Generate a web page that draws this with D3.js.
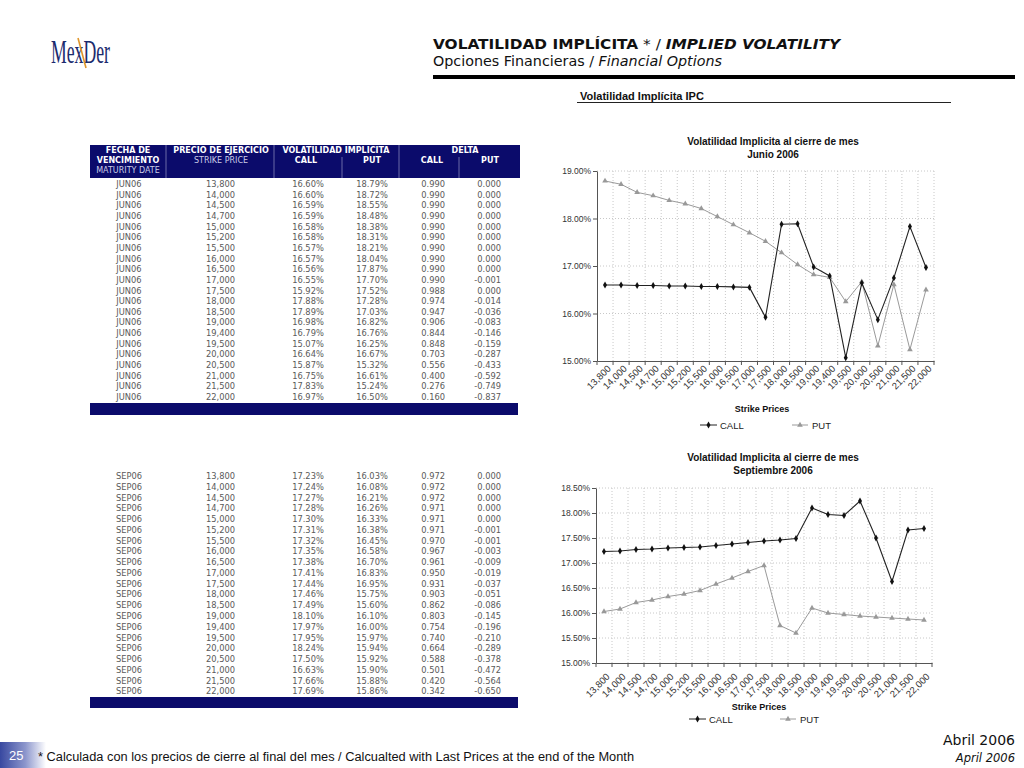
<!DOCTYPE html>
<html><head><meta charset="utf-8">
<script src="https://cdn.jsdelivr.net/npm/d3@7"></script>
<style>body{margin:0;background:#fff}svg{display:block}</style>
</head><body><svg id="c" width="1024" height="768"></svg>
<script>
// ---------- DATA ----------
const strikes = [13800,14000,14500,14700,15000,15200,15500,16000,16500,17000,17500,18000,18500,19000,19400,19500,20000,20500,21000,21500,22000];
const junLabel = "JUN06";
const junCall = [16.60,16.60,16.59,16.59,16.58,16.58,16.57,16.57,16.56,16.55,15.92,17.88,17.89,16.98,16.79,15.07,16.64,15.87,16.75,17.83,16.97];
const junPut  = [18.79,18.72,18.55,18.48,18.38,18.31,18.21,18.04,17.87,17.70,17.52,17.28,17.03,16.82,16.76,16.25,16.67,15.32,16.61,15.24,16.50];
const junDeltaCall = [0.990,0.990,0.990,0.990,0.990,0.990,0.990,0.990,0.990,0.990,0.988,0.974,0.947,0.906,0.844,0.848,0.703,0.556,0.400,0.276,0.160];
const junDeltaPut  = [0.000,0.000,0.000,0.000,0.000,0.000,0.000,0.000,0.000,-0.001,0.000,-0.014,-0.036,-0.083,-0.146,-0.159,-0.287,-0.433,-0.592,-0.749,-0.837];
const sepLabel = "SEP06";
const sepCall = [17.23,17.24,17.27,17.28,17.30,17.31,17.32,17.35,17.38,17.41,17.44,17.46,17.49,18.10,17.97,17.95,18.24,17.50,16.63,17.66,17.69];
const sepPut  = [16.03,16.08,16.21,16.26,16.33,16.38,16.45,16.58,16.70,16.83,16.95,15.75,15.60,16.10,16.00,15.97,15.94,15.92,15.90,15.88,15.86];
const sepDeltaCall = [0.972,0.972,0.972,0.971,0.971,0.971,0.970,0.967,0.961,0.950,0.931,0.903,0.862,0.803,0.754,0.740,0.664,0.588,0.501,0.420,0.342];
const sepDeltaPut  = [0.000,0.000,0.000,0.000,0.000,-0.001,-0.001,-0.003,-0.009,-0.019,-0.037,-0.051,-0.086,-0.145,-0.196,-0.210,-0.289,-0.378,-0.472,-0.564,-0.650];
const junYTicks = [15,16,17,18,19];
const sepYTicks = [15,15.5,16,16.5,17,17.5,18,18.5];
const seriesNames = ["CALL","PUT"];

// ---------- SETUP ----------
const svg = d3.select("#c");
const NAVY = "#0b0b6b";
const fmtStrike = d3.format(",");
const fmtPct = v => v.toFixed(2) + "%";
const fmtDelta = v => v.toFixed(3);

// ---------- HEADER ----------
const logo = svg.append("g");
logo.append("text").attr("x",51).attr("y",63)
  .attr("font-family","Liberation Serif").attr("font-size",34).attr("fill","#1c2b6e")
  .attr("textLength",59).attr("lengthAdjust","spacingAndGlyphs").text("MexDer");
logo.append("line").attr("x1",78).attr("y1",38).attr("x2",86).attr("y2",68)
  .attr("stroke","#e0962a").attr("stroke-width",1.6);

const t1 = svg.append("text").attr("x",433).attr("y",49)
  .attr("font-family","DejaVu Sans").attr("font-size",14).attr("fill","#111")
  .attr("textLength",407).attr("lengthAdjust","spacingAndGlyphs");
t1.append("tspan").attr("font-weight","bold").text("VOLATILIDAD IMPLÍCITA");
t1.append("tspan").text(" * / ");
t1.append("tspan").attr("font-weight","bold").attr("font-style","italic").text("IMPLIED VOLATILITY");
const t2 = svg.append("text").attr("x",433).attr("y",66)
  .attr("font-family","DejaVu Sans").attr("font-size",14).attr("fill","#111")
  .attr("textLength",289).attr("lengthAdjust","spacingAndGlyphs");
t2.append("tspan").text("Opciones Financieras / ");
t2.append("tspan").attr("font-style","italic").text("Financial Options");
svg.append("rect").attr("x",433).attr("y",75).attr("width",582).attr("height",4).attr("fill","#000");

svg.append("text").attr("x",580).attr("y",100)
  .attr("font-family","Liberation Sans").attr("font-weight","bold").attr("font-size",11).attr("fill","#111")
  .text("Volatilidad Implícita IPC");
svg.append("line").attr("x1",577).attr("x2",951).attr("y1",102.5).attr("y2",102.5).attr("stroke","#222").attr("stroke-width",1);

// ---------- TABLE HEADER ----------
const th = svg.append("g").attr("font-family","DejaVu Sans").attr("font-size",8).attr("text-anchor","middle");
th.append("rect").attr("x",90).attr("y",145).attr("width",430).attr("height",33).attr("fill",NAVY);
[[166,145],[274,145],[342,157],[399,145],[459,157]].forEach(([x,y0])=>{
  th.append("line").attr("x1",x).attr("x2",x).attr("y1",y0).attr("y2",178).attr("stroke","#6b6ba8").attr("stroke-width",1);
});
const hdr = [
  [128,153,"FECHA DE",true],[128,163,"VENCIMIENTO",true],[128,173,"MATURITY DATE",false],
  [221,153,"PRECIO DE EJERCICIO",true],[221,163,"STRIKE PRICE",false],
  [336,153,"VOLATILIDAD IMPLICITA",true],[306,163,"CALL",true],[372,163,"PUT",true],
  [465,153,"DELTA",true],[432,163,"CALL",true],[490,163,"PUT",true]
];
hdr.forEach(([x,y,s,b])=>{
  th.append("text").attr("x",x).attr("y",y).attr("fill", b ? "#fff" : "#c9cbe6")
    .attr("font-weight", b ? "bold" : "normal").text(s);
});

// ---------- TABLE BODIES ----------
function drawTable(y0, step, label, call, put, dc, dp, barY, barH){
  const g = svg.append("g").attr("font-family","DejaVu Sans").attr("font-size",8.3).attr("fill","#5a5a5a");
  const rows = strikes.map((s,i)=>({s, c:call[i], p:put[i], dc:dc[i], dp:dp[i], i}));
  const y = d3.scaleLinear().domain([0,1]).range([y0, y0+step]);
  const r = g.selectAll("g.row").data(rows).join("g").attr("class","row")
    .attr("transform", d=>`translate(0,${y(d.i)+3})`);
  r.append("text").attr("x",129).attr("text-anchor","middle").text(label);
  r.append("text").attr("x",235).attr("text-anchor","end").text(d=>fmtStrike(d.s));
  r.append("text").attr("x",308).attr("text-anchor","middle").text(d=>fmtPct(d.c));
  r.append("text").attr("x",372).attr("text-anchor","middle").text(d=>fmtPct(d.p));
  r.append("text").attr("x",445).attr("text-anchor","end").text(d=>fmtDelta(d.dc));
  r.append("text").attr("x",501).attr("text-anchor","end").text(d=>fmtDelta(d.dp));
  svg.append("rect").attr("x",90).attr("y",barY).attr("width",428).attr("height",barH).attr("fill",NAVY);
}
drawTable(184, 10.65, junLabel, junCall, junPut, junDeltaCall, junDeltaPut, 403, 12);
drawTable(476, 10.77, sepLabel, sepCall, sepPut, sepDeltaCall, sepDeltaPut, 697, 11);

// ---------- CHARTS ----------
function drawChart(o){
  const g = svg.append("g").attr("font-family","Liberation Sans");
  const x = d3.scaleBand().domain(strikes.map(fmtStrike)).range([o.x0,o.x1]);
  const y = d3.scaleLinear().domain([o.ticks[0], o.ticks[o.ticks.length-1]]).range([o.yb,o.yt]);
  const grid = g.append("g").attr("stroke","#c8c8c8").attr("stroke-dasharray","1,2").attr("stroke-width",1);
  o.ticks.slice(1).forEach(t=>grid.append("line").attr("x1",o.x0).attr("x2",o.x1).attr("y1",y(t)).attr("y2",y(t)));
  x.domain().forEach((d,i)=>{ if(i>0) grid.append("line").attr("x1",x(d)).attr("x2",x(d)).attr("y1",o.yt).attr("y2",o.yb); });
  grid.append("line").attr("x1",o.x1).attr("x2",o.x1).attr("y1",o.yt).attr("y2",o.yb);

  const ya = g.append("g").attr("transform",`translate(${o.x0},0)`)
    .call(d3.axisLeft(y).tickValues(o.ticks).tickFormat(fmtPct).tickSize(4).tickSizeOuter(0));
  ya.select(".domain").attr("stroke","#555");
  ya.selectAll(".tick line").attr("stroke","#555");
  ya.selectAll("text").attr("font-family","Liberation Sans").attr("font-size",8.5).attr("fill","#333").attr("x",-6);

  const xa = g.append("g").attr("transform",`translate(0,${o.yb})`)
    .call(d3.axisBottom(x).tickSize(0).tickSizeOuter(0));
  xa.select(".domain").attr("stroke","#555");
  xa.selectAll("text").attr("font-family","Liberation Sans").attr("font-size",9.5).attr("fill","#333")
    .attr("x",0).attr("y",0).attr("dy","0.35em").style("text-anchor","end")
    .attr("transform",`translate(4,${o.lblOff}) rotate(-45)`);
  x.domain().concat([null]).forEach((d,i)=>{
    const xx = d===null ? o.x1 : x(d);
    xa.append("line").attr("x1",xx).attr("x2",xx).attr("y1",0).attr("y2",4).attr("stroke","#555");
  });

  const cx = (d,i)=> x(fmtStrike(strikes[i])) + x.bandwidth()/2;
  const line = d3.line().x((d,i)=>cx(d,i)).y(d=>y(d));
  g.append("path").datum(o.put).attr("d",line).attr("fill","none").attr("stroke","#9a9a9a").attr("stroke-width",1);
  g.append("path").datum(o.call).attr("d",line).attr("fill","none").attr("stroke","#222").attr("stroke-width",1.1);
  const tri = d3.symbol(d3.symbolTriangle,14), dia = d3.symbol(d3.symbolDiamond,14);
  g.selectAll("path.pm").data(o.put).join("path").attr("class","pm")
    .attr("transform",(d,i)=>`translate(${cx(d,i)},${y(d)})`).attr("d",tri).attr("fill","#999");
  g.selectAll("path.cm").data(o.call).join("path").attr("class","cm")
    .attr("transform",(d,i)=>`translate(${cx(d,i)},${y(d)})`).attr("d",dia).attr("fill","#111");

  const tt = g.append("text").attr("text-anchor","middle").attr("font-weight","bold").attr("font-size",10).attr("fill","#111");
  tt.append("tspan").attr("x",o.tx).attr("y",o.ty).text(o.title1);
  tt.append("tspan").attr("x",o.tx).attr("y",o.ty+13).text(o.title2);
  g.append("text").attr("x",o.ax).attr("y",o.ay).attr("text-anchor","middle").attr("font-weight","bold")
    .attr("font-size",9).attr("fill","#111").text("Strike Prices");

  // legend
  const lg = g.append("g").attr("font-size",9.5).attr("fill","#222");
  lg.append("line").attr("x1",o.lx1).attr("x2",o.lx1+17).attr("y1",o.ly).attr("y2",o.ly).attr("stroke","#222");
  lg.append("path").attr("transform",`translate(${o.lx1+8.5},${o.ly})`).attr("d",dia).attr("fill","#111");
  lg.append("text").attr("x",o.lx1+20).attr("y",o.ly+3.5).text(seriesNames[0]);
  lg.append("line").attr("x1",o.lx2).attr("x2",o.lx2+16).attr("y1",o.ly).attr("y2",o.ly).attr("stroke","#9a9a9a");
  lg.append("path").attr("transform",`translate(${o.lx2+8},${o.ly})`).attr("d",tri).attr("fill","#999");
  lg.append("text").attr("x",o.lx2+20).attr("y",o.ly+3.5).text(seriesNames[1]);
}

drawChart({x0:597,x1:934,yt:171,yb:361,ticks:junYTicks,call:junCall,put:junPut,lblOff:6,
  title1:"Volatilidad Implicita al cierre de mes",title2:"Junio 2006",tx:773,ty:145,
  ax:762,ay:412,lx1:700,lx2:792,ly:425});
drawChart({x0:596,x1:932,yt:488,yb:663,ticks:sepYTicks,call:sepCall,put:sepPut,lblOff:12,
  title1:"Volatilidad Implicita  al cierre de mes",title2:"Septiembre 2006",tx:773,ty:461,
  ax:759,ay:710,lx1:689,lx2:780,ly:719});

// ---------- FOOTER ----------
const gr = svg.append("defs").append("linearGradient").attr("id","fg");
gr.append("stop").attr("offset","0%").attr("stop-color","#3848a0");
gr.append("stop").attr("offset","55%").attr("stop-color","#8c96cc");
gr.append("stop").attr("offset","100%").attr("stop-color","#ffffff");
svg.append("rect").attr("x",0).attr("y",742).attr("width",46).attr("height",26).attr("fill","url(#fg)");
svg.append("text").attr("x",9).attr("y",760).attr("font-family","Liberation Sans").attr("font-size",13)
  .attr("fill","#fff").text("25");
svg.append("text").attr("x",38).attr("y",761).attr("font-family","Liberation Sans").attr("font-size",12)
  .attr("fill","#111").attr("textLength",596).attr("lengthAdjust","spacingAndGlyphs")
  .text("* Calculada con los precios de cierre al final del mes / Calcualted with Last Prices at the end of the Month");
svg.append("text").attr("x",1015).attr("y",745).attr("text-anchor","end").attr("font-family","DejaVu Sans")
  .attr("font-size",14).attr("fill","#111").text("Abril 2006");
svg.append("text").attr("x",1015).attr("y",762).attr("text-anchor","end").attr("font-family","DejaVu Sans")
  .attr("font-style","italic").attr("font-size",11.5).attr("fill","#111").text("April 2006");
</script></body></html>
